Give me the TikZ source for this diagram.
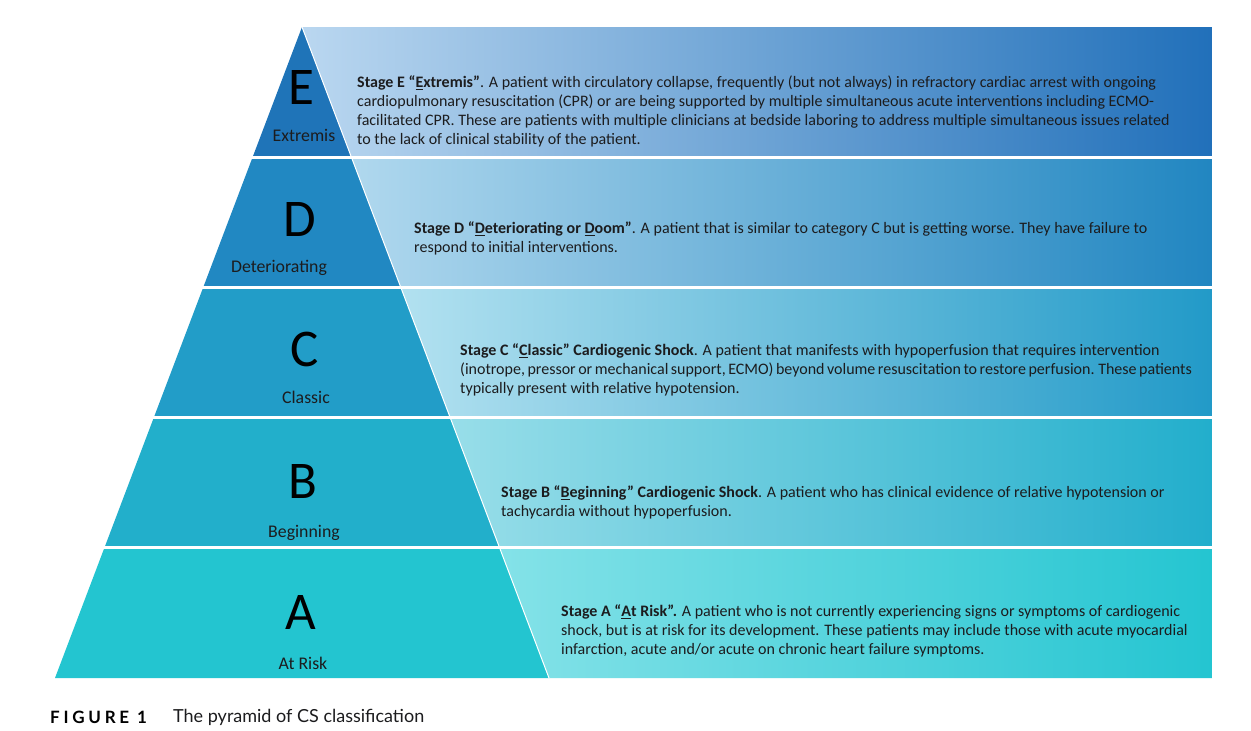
\documentclass[tikz,border=0pt]{standalone}
\usepackage{fontspec}
\setmainfont{Carlito}
\newfontfamily\capfont{Lato}
\newfontfamily\capspaced[LetterSpace=22]{Lato}
\definecolor{darkE}{RGB}{31,116,184}
\definecolor{darkD}{RGB}{33,136,194}
\definecolor{darkC}{RGB}{34,157,200}
\definecolor{darkB}{RGB}{34,175,203}
\definecolor{darkA}{RGB}{35,197,208}
\definecolor{paleE}{RGB}{186,215,240}
\definecolor{paleD}{RGB}{176,216,238}
\definecolor{paleC}{RGB}{178,225,240}
\definecolor{paleB}{RGB}{152,222,233}
\definecolor{paleA}{RGB}{132,226,232}
\definecolor{deepE}{RGB}{33,112,186}
\definecolor{deepD}{RGB}{33,134,193}
\definecolor{deepC}{RGB}{34,154,200}
\definecolor{deepB}{RGB}{34,174,204}
\definecolor{deepA}{RGB}{36,197,209}
\definecolor{inktext}{RGB}{28,28,30}

\begin{document}
\begin{tikzpicture}[x=1pt,y=1pt,yscale=-1,
  letter/.style={font=\fontsize{53}{53}\selectfont, text=black, inner sep=0pt},
  tier/.style={font=\fontsize{17.8}{19}\selectfont, text=inktext, inner sep=0pt},
  stagetext/.style={anchor=west, align=left, inner sep=0pt, text=inktext,
    font=\fontsize{16}{19}\selectfont}]
\useasboundingbox [fill=white] (0,0) rectangle (1251,731);

%Trapezoid [row E]
\fill [darkE] (302,27) -- (351.4,157.2) -- (252.6,157.2) -- cycle ;
\shade [left color=paleE, right color=deepE] (302,27) -- (1212,27) -- (1212,157.2) -- (351.4,157.2) -- cycle ;
%Trapezoid [row D]
\fill [darkD] (252.6,157.2) -- (351.4,157.2) -- (400.8,287.4) -- (203.2,287.4) -- cycle ;
\shade [left color=paleD, right color=deepD] (351.4,157.2) -- (1212,157.2) -- (1212,287.4) -- (400.8,287.4) -- cycle ;
%Trapezoid [row C]
\fill [darkC] (203.2,287.4) -- (400.8,287.4) -- (450.2,417.6) -- (153.8,417.6) -- cycle ;
\shade [left color=paleC, right color=deepC] (400.8,287.4) -- (1212,287.4) -- (1212,417.6) -- (450.2,417.6) -- cycle ;
%Trapezoid [row B]
\fill [darkB] (153.8,417.6) -- (450.2,417.6) -- (499.6,547.8) -- (104.4,547.8) -- cycle ;
\shade [left color=paleB, right color=deepB] (450.2,417.6) -- (1212,417.6) -- (1212,547.8) -- (499.6,547.8) -- cycle ;
%Trapezoid [row A]
\fill [darkA] (104.4,547.8) -- (499.6,547.8) -- (549,678) -- (55,678) -- cycle ;
\shade [left color=paleA, right color=deepA] (499.6,547.8) -- (1212,547.8) -- (1212,678) -- (549,678) -- cycle ;

%Straight Lines [separators]
\draw [white, line width=1] (302,27) -- (549,678) ;
\draw [white, line width=0.8] (1212,27) -- (1212,678) ;
\foreach \ysep in {157.2,287.4,417.6,547.8}
  \draw [white, line width=3] (40,\ysep) -- (1220,\ysep) ;

%Letters and tiers
\node [letter] (letE) at (301,87) {E};
\node [tier] (tierE) at (304,135) {Extremis};
\node [letter] (letD) at (300,219) {D};
\node [tier] (tierD) at (279,268) {Deteriorating};
\node [letter] (letC) at (305,349) {C};
\node [tier] (tierC) at (306,397) {Classic};
\node [letter] (letB) at (303,481) {B};
\node [tier] (tierB) at (304,533) {Beginning};
\node [letter] (letA) at (301,612) {A};
\node [tier] (tierA) at (303,663) {At Risk};

%Stage descriptions
\node [stagetext] (txtE) at (357,111.5) {\textbf{Stage E “\underline{E}xtremis”}. A patient with circulatory collapse, frequently (but not always) in refractory cardiac arrest with ongoing\\
cardiopulmonary resuscitation (CPR) or are being supported by multiple simultaneous acute interventions including ECMO-\\
facilitated CPR. These are patients with multiple clinicians at bedside laboring to address multiple simultaneous issues related\\
to the lack of clinical stability of the patient.};
\node [stagetext] (txtD) at (414,238.5) {\textbf{Stage D “\underline{D}eteriorating or \underline{D}oom”}. A patient that is similar to category C but is getting worse. They have failure to\\
respond to initial interventions.};
\node [stagetext] (txtC) at (460,370) {\textbf{Stage C “\underline{C}lassic” Cardiogenic Shock}. A patient that manifests with hypoperfusion that requires intervention\\
{\spaceskip=2.5pt\relax (inotrope, pressor or mechanical support, ECMO) beyond volume resuscitation to restore perfusion. These patients}\\
typically present with relative hypotension.};
\node [stagetext] (txtB) at (501,502.5) {\textbf{Stage B “\underline{B}eginning” Cardiogenic Shock}. A patient who has clinical evidence of relative hypotension or\\
tachycardia without hypoperfusion.};
\node [stagetext] (txtA) at (561,631) {\textbf{Stage A “\underline{A}t Risk”.} A patient who is not currently experiencing signs or symptoms of cardiogenic\\
shock, but is at risk for its development. These patients may include those with acute myocardial\\
infarction, acute and/or acute on chronic heart failure symptoms.};

%Caption
\node [anchor=west, inner sep=0pt, font=\capspaced\bfseries\fontsize{17}{19}\selectfont] (figno) at (50,717) {FIGURE 1};
\node [anchor=west, inner sep=0pt, font=\capfont\fontsize{18}{20}\selectfont, text=inktext] (figcap) at (173,717) {The pyramid of CS classification};
\end{tikzpicture}
\end{document}
